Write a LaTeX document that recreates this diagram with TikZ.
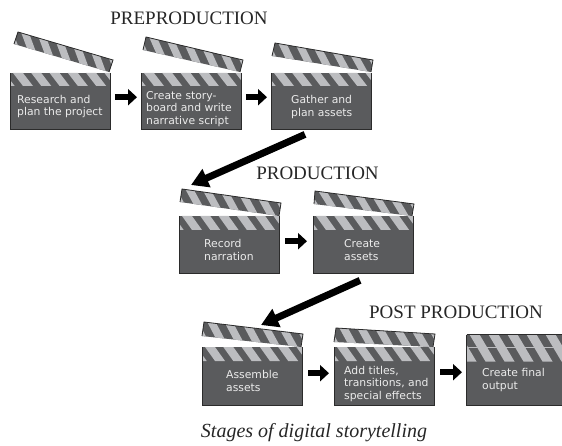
\documentclass[tikz,border=0pt]{standalone}
\usepackage{fontspec}
\setmainfont{Liberation Serif}
\newfontfamily\labelfont{DejaVu Sans}
\usetikzlibrary{calc,arrows.meta}
\definecolor{clapdark}{HTML}{5A5B5D}
\definecolor{claplight}{HTML}{BCBDC0}
\definecolor{clapline}{HTML}{2B2B2B}
\tikzset{
  bodybox/.style={fill=clapdark,inner sep=0pt,minimum width=#1,anchor=north west},
  lbl/.style={text=white!92!black,font=\labelfont\fontsize{10.8}{12.3}\selectfont,align=left,anchor=west,inner sep=0pt},
  stagetitle/.style={font=\fontsize{19}{22}\selectfont,inner sep=0pt,anchor=center,text=black!85},
  smallarrow/.style={line width=6.5pt,black,-{Triangle[length=9pt,width=16pt]}},
  bigarrow/.style={line width=7pt,black,-{Triangle[length=17pt,width=19pt]}}
}
% name, band height, slant, stripe width, period
\newcommand{\bandstripes}[5]{%
  \begin{scope}
    \clip (#1.north west) rectangle ([shift={(0,#2)}]#1.north east);
    \foreach \i in {-2,...,7}{
      \pgfmathsetmacro{\xs}{\i*#5+3}
      \fill[claplight] ([shift={(\xs,0)}]#1.north west) -- ++(#4,0) -- ++(#3,#2) -- ++(-#4,0) -- cycle;
    }
  \end{scope}
  \draw[clapline,line width=.7pt] (#1.north west) -- (#1.south west) -- (#1.south east) -- (#1.north east);
}
% four corners of the stick: top-left, top-right, bottom-right, bottom-left
\newcommand{\clapstick}[4]{%
  \begin{scope}
    \coordinate (sa) at #1; \coordinate (sb) at #2; \coordinate (sc) at #3; \coordinate (sd) at #4;
    \fill[clapdark] (sa) -- (sb) -- (sc) -- (sd) -- cycle;
    \begin{scope}
      \clip (sa) -- (sb) -- (sc) -- (sd) -- cycle;
      \foreach \t in {-0.15,0.035,0.22,0.405,0.59,0.775,0.96}{
        \fill[claplight] ($(sa)!{\t}!(sb)$) -- ($(sa)!{\t+0.09}!(sb)$) -- ($(sd)!{\t+0.19}!(sc)$) -- ($(sd)!{\t+0.10}!(sc)$) -- cycle;
      }
    \end{scope}
    \draw[clapline,line width=.8pt] (sd) -- (sa) -- (sb) -- (sc);
  \end{scope}
}
\begin{document}
\begin{tikzpicture}[x=1pt,y=-1pt]
\useasboundingbox (0,0) rectangle (562,446);
% titles
\node[stagetitle] (t1) at (189,18) {PREPRODUCTION};
\node[stagetitle] (t2) at (317.5,173) {PRODUCTION};
\node[stagetitle] (t3) at (456,312) {POST PRODUCTION};
% bodies
\node[bodybox=100pt,minimum height=56pt] (c1) at (10,73) {};
\node[bodybox=100pt,minimum height=56pt] (c2) at (141,73) {};
\node[bodybox=100pt,minimum height=56pt] (c3) at (271,73) {};
\node[bodybox=100pt,minimum height=57pt] (c4) at (179,216) {};
\node[bodybox=100pt,minimum height=57pt] (c5) at (313,216) {};
\node[bodybox=100pt,minimum height=58pt] (c6) at (202,347) {};
\node[bodybox=100pt,minimum height=58pt] (c7) at (334,347) {};
\node[bodybox=100pt,minimum height=70pt] (c8) at (466.5,334.5) {};
\bandstripes{c1}{13}{10}{10}{18.3}
\bandstripes{c2}{13}{10}{10}{18.3}
\bandstripes{c3}{13}{10}{10}{18.3}
\bandstripes{c4}{14}{10}{10}{18.3}
\bandstripes{c5}{14}{10}{10}{18.3}
\bandstripes{c6}{14}{10}{10}{18.3}
\bandstripes{c7}{14}{10}{10}{18.3}
\bandstripes{c8}{27}{16}{10}{19}
\draw[clapline,line width=.7pt] (c8.north west) -- (c8.north east);
\draw[claplight,line width=.4pt] ([shift={(0,12.5)}]c8.north west) -- ([shift={(0,12.5)}]c8.north east);
% sticks
\clapstick{(18,32)}{(113,60)}{(109,72)}{(14,44)}
\clapstick{(146,37)}{(243,60)}{(240,72)}{(143,50)}
\clapstick{(275,43)}{(373,60)}{(371,72)}{(272,56)}
\clapstick{(182,189)}{(281,203)}{(279,216)}{(180,202)}
\clapstick{(315,191)}{(414,204)}{(412,216)}{(314,204)}
\clapstick{(204,322)}{(303,334)}{(301,347)}{(202,336)}
\clapstick{(336,328)}{(435,334)}{(433,347)}{(334,342)}
% labels
\node[lbl] (l1) at (17,106.5) {Research and\\plan the project};
\node[lbl] (l2) at (146,109) {Create story-\\board and write\\narrative script};
\node[lbl] (l3) at (291,107) {Gather and\\plan assets};
\node[lbl] (l4) at (204,250) {Record\\narration};
\node[lbl] (l5) at (344,250) {Create\\assets};
\node[lbl] (l6) at (226,381) {Assemble\\assets};
\node[lbl] (l7) at (344,384) {Add titles,\\transitions, and\\special effects};
\node[lbl] (l8) at (482,380) {Create final\\output};
% arrows
\draw[smallarrow] ([shift={(4.5,-4)}]c1.east) -- ([shift={(-4,-4)}]c2.west);
\draw[smallarrow] ([shift={(4.5,-4)}]c2.east) -- ([shift={(-4,-4)}]c3.west);
\draw[smallarrow] ([shift={(6,-3.5)}]c4.east) -- ([shift={(-6,-3.5)}]c5.west);
\draw[smallarrow] ([shift={(6,-3)}]c6.east) -- ([shift={(-5,-3)}]c7.west);
\draw[smallarrow] ([shift={(6,-4)}]c7.east) -- ([shift={(-4.5,2.5)}]c8.west);
\draw[bigarrow] ([shift={(34,5)}]c3.south west) -- ([shift={(12,-31)}]c4.north west);
\draw[bigarrow] ([shift={(47,7)}]c5.south west) -- ([shift={(59,-22)}]c6.north west);
% caption
\node[font=\itshape\fontsize{20}{22}\selectfont,inner sep=0pt,text=black!85] (cap) at (314,433) {Stages of digital storytelling};
\end{tikzpicture}
\end{document}
